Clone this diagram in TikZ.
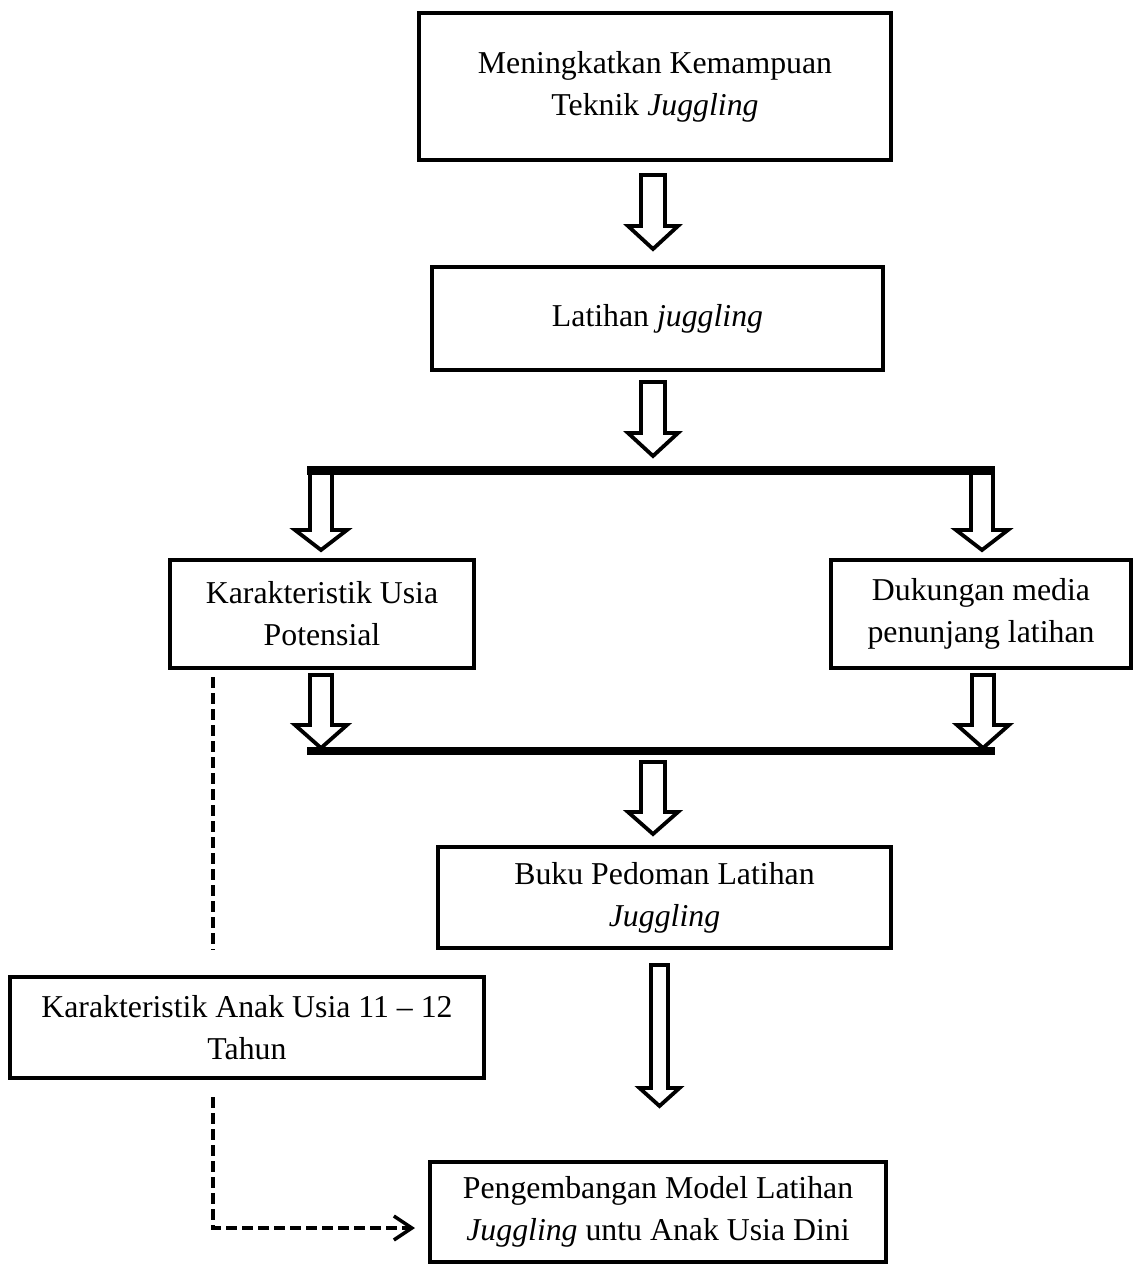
\documentclass[tikz,border=0pt]{standalone}
\usepackage{fontspec}
\setmainfont{Liberation Serif}
\usetikzlibrary{arrows.meta}
\newcommand\blkarrow[6]{% x, shaft half, head half, top, head base, tip
  \draw[blockarrow] (#1-#2,#4) -- (#1+#2,#4) -- (#1+#2,#5) -- (#1+#3,#5) -- (#1,#6) -- (#1-#3,#5) -- (#1-#2,#5) -- cycle;}
\begin{document}
\begin{tikzpicture}[x=1pt,y=-1pt,
  box/.style={draw,line width=4pt,rectangle,align=center,inner sep=0pt,
    font=\fontsize{31.8}{42}\selectfont},
  blockarrow/.style={draw,fill=white,line width=3.8pt,line join=miter},
  bar/.style={line width=8.5pt},
  dashline/.style={line width=3.3pt,dash pattern=on 11pt off 5pt}]
\useasboundingbox (0,0) rectangle (1135,1266);

% boxes
\node[box,minimum width=472pt,minimum height=147pt] (b1) at (655,86.5)
  {Meningkatkan Kemampuan\\Teknik \textit{Juggling}};
\node[box,minimum width=451pt,minimum height=103pt] (b2) at (657.5,318.5)
  {Latihan \textit{juggling}};
\node[box,minimum width=304pt,minimum height=108pt] (b3) at (322,614)
  {Karakteristik Usia\\Potensial};
\node[box,minimum width=300pt,minimum height=108pt] (b4) at (981,614)
  {Dukungan media\\penunjang latihan};
\node[box,minimum width=453pt,minimum height=101pt] (b5) at (664.5,897.5)
  {Buku Pedoman Latihan\\\textit{Juggling}};
\node[box,minimum width=474pt,minimum height=101pt] (b6) at (247,1027.5)
  {Karakteristik Anak Usia 11 -- 12\\Tahun};
\node[box,minimum width=456pt,minimum height=100pt] (b7) at (658,1212)
  {Pengembangan Model Latihan\\\textit{Juggling} untu Anak Usia Dini};

% block arrows
\blkarrow{653}{12}{25}{175}{226}{249}
\blkarrow{653}{12}{25}{382}{433}{456}
\blkarrow{321}{11}{26}{470}{530}{550}
\blkarrow{982}{11}{26}{470}{530}{550}
\blkarrow{321}{11}{26}{675}{725}{748}
\blkarrow{983}{11}{26}{675}{725}{748}
\blkarrow{653}{12}{25}{762}{812}{834}
\blkarrow{659.5}{8.5}{20}{965}{1088}{1106}

% bars
\coordinate (tl) at (307,470.5);
\coordinate (tr) at (995,470.5);
\coordinate (bl) at (307,751);
\coordinate (br) at (995,751);
\draw[bar] (tl) -- (tr);
\draw[bar] (bl) -- (br);

% dashed connectors
\coordinate (d1) at (213,677);
\coordinate (d2) at (213,950);
\coordinate (d3) at (213,1097);
\coordinate (d4) at (213,1228);
\coordinate (d5) at (415,1228);
\draw[dashline] (d1) -- (d2);
\draw[dashline,-{Straight Barb[length=18pt,width=24pt,line width=3.5pt]}] (d3) -- (d4) -- (d5);
\end{tikzpicture}
\end{document}
